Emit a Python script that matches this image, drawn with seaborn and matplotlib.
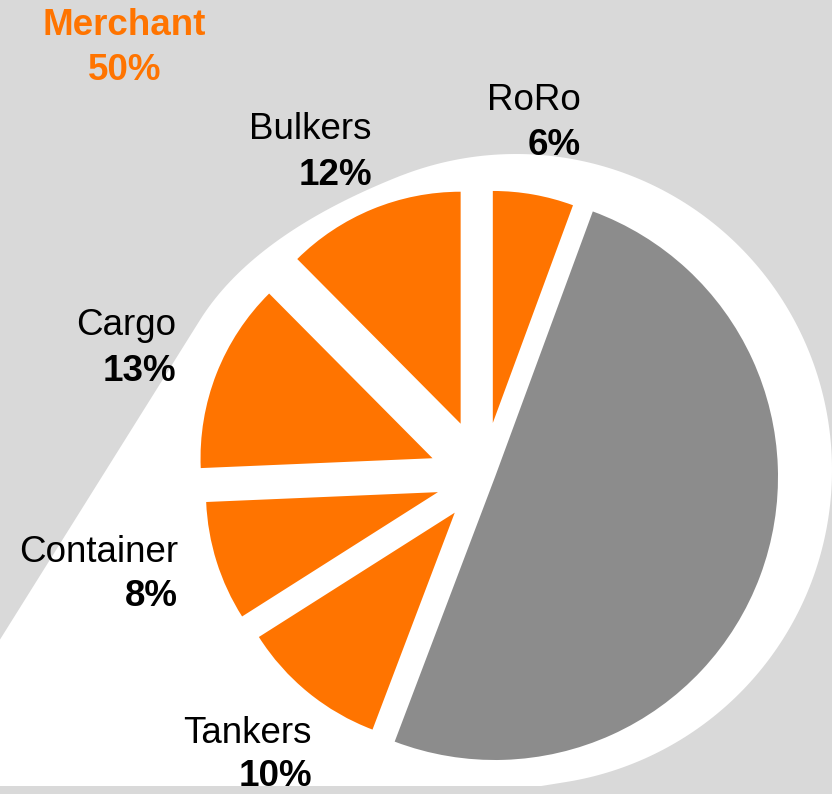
import numpy as np
import matplotlib.pyplot as plt
import seaborn as sns

# fleet segments, clockwise from 12 o'clock
segments = ['RoRo', 'Other', 'Tankers', 'Container', 'Cargo', 'Bulkers']
shares = [5.6, 50.0, 10.2, 8.3, 13.2, 12.4]          # % of fleet
is_merchant = [True, False, True, True, True, True]
pct_labels = ['6%', '', '10%', '8%', '13%', '12%']
merchant_label = 'Merchant'
merchant_pct = '50%'

sns.set_theme(style='white')
plt.rcParams['font.family'] = ['Liberation Sans', 'DejaVu Sans']

BG = '#D9D9D9'
ORANGE = '#FF7400'
GREY = '#8C8C8C'

W, H = 832, 794                      # work in pixel units, y pointing up


def py(y):
    return H - y


def hull(pts):
    # monotone chain convex hull
    pts = sorted(map(tuple, pts))
    def cross(o, a, b):
        return (a[0] - o[0]) * (b[1] - o[1]) - (a[1] - o[1]) * (b[0] - o[0])
    lower, upper = [], []
    for p in pts:
        while len(lower) >= 2 and cross(lower[-2], lower[-1], p) <= 0:
            lower.pop()
        lower.append(p)
    for p in reversed(pts):
        while len(upper) >= 2 and cross(upper[-2], upper[-1], p) <= 0:
            upper.pop()
        upper.append(p)
    return np.array(lower[:-1] + upper[:-1])


fig = plt.figure(figsize=(W / 100, H / 100), dpi=100, facecolor=BG)
ax = fig.add_axes([0, 0, 1, 1])

# white tear-drop behind the pie: circle + tail to the lower left, smooth blend
t = np.linspace(0, 2 * np.pi, 400)
blob = np.column_stack([516 + 316 * np.cos(t), py(470) + 316 * np.sin(t)])
p0, k, p1 = np.array([200, py(320)]), np.array([254, py(234)]), np.array([400, py(176)])
s = np.linspace(0, 1, 40)[:, None]
fillet = (1 - s) ** 2 * p0 + 2 * s * (1 - s) * k + s ** 2 * p1
tail = np.array([[-163, py(900)]])
shape = plt.Polygon(hull(np.vstack([blob, fillet, tail])), closed=True,
                    facecolor='white', edgecolor='none', zorder=0)
ax.add_patch(shape)
shape.set_clip_path(plt.Rectangle((0, py(786)), W, 786, transform=ax.transData))

# grey (non-merchant) half
ax.pie(shares, startangle=90, counterclock=False, center=(495, py(477)), radius=283,
       colors=[GREY if not m else 'none' for m in is_merchant],
       wedgeprops=dict(linewidth=0), frame=False)

# merchant slices, pulled apart
offsets = [55.9, 0, 44.7, 47.2, 54.2, 58.7]
ax.pie(shares, startangle=90, counterclock=False, center=(483, py(478)), radius=232,
       explode=offsets,
       colors=[ORANGE if m else 'none' for m in is_merchant],
       wedgeprops=dict(linewidth=0), frame=False)

# labels: right edge x, baseline of name line, baseline of percent line
label_pos = {'RoRo': (581, 110, 155), 'Bulkers': (372, 139, 185),
             'Cargo': (176, 335, 381), 'Container': (178, 562, 606),
             'Tankers': (312, 743, 786)}
fs = 26.5
for name, pct in zip(segments, pct_labels):
    if name not in label_pos:
        continue
    x, y1, y2 = label_pos[name]
    ax.text(x, py(y1), name, ha='right', va='baseline', fontsize=fs, color='black')
    ax.text(x, py(y2), pct, ha='right', va='baseline', fontsize=fs,
            fontweight='bold', color='black')

ax.text(124.5, py(35), merchant_label, ha='center', va='baseline', fontsize=fs,
        fontweight='bold', color=ORANGE)
ax.text(124.5, py(80), merchant_pct, ha='center', va='baseline', fontsize=fs,
        fontweight='bold', color=ORANGE)

ax.set_xlim(0, W)
ax.set_ylim(0, H)
ax.set_aspect('equal')
ax.axis('off')

plt.savefig('out.png', dpi=100, facecolor=BG)
